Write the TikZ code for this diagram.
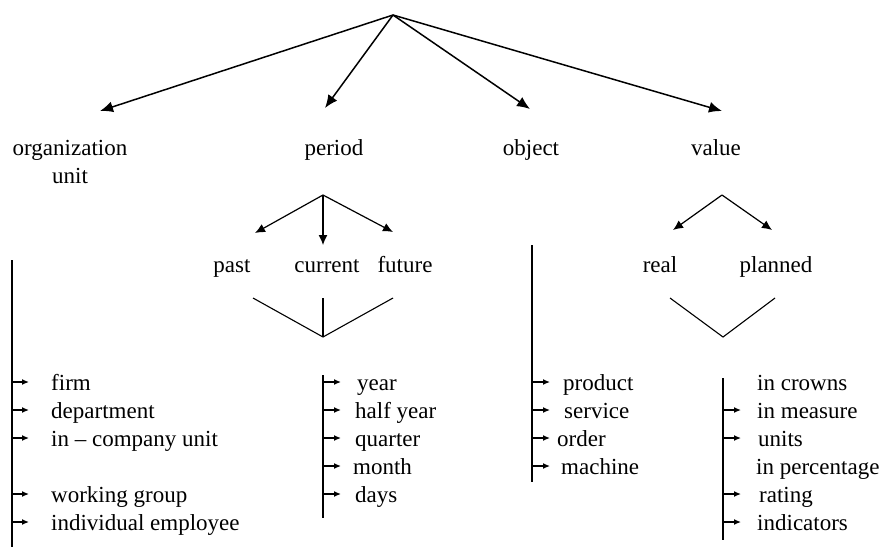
\documentclass[tikz,border=0pt]{standalone}
\usepackage{fontspec}
\setmainfont{Liberation Serif}
\usetikzlibrary{arrows.meta}
\begin{document}
\begin{tikzpicture}[x=1pt,y=-1pt,
  lbl/.style={inner sep=0pt, font=\fontsize{23}{28}\selectfont, text height=18pt, text depth=2pt},
  item/.style={lbl, anchor=base west},
  head/.style={lbl, anchor=base},
  bigarr/.style={line width=1.5pt, -{Latex[length=13pt,width=11pt]}},
  midarr/.style={line width=1.2pt, -{Latex[length=10pt,width=9pt]}},
  smallarr/.style={line width=1.3pt, -{Latex[length=7pt,width=6pt]}},
  plain/.style={line width=1.1pt}]
\useasboundingbox (0,0) rectangle (880,547);

% top level
\coordinate (apex) at (393,15);
\coordinate (orgtip) at (100,111);
\coordinate (pertip) at (325,108);
\coordinate (objtip) at (530,109);
\coordinate (valtip) at (722,111);
\node[head] (org) at (70,155) {organization};
\node[head] (unit) at (70,183) {unit};
\node[head] (period) at (334,155) {period};
\node[head] (object) at (531,155) {object};
\node[head] (value) at (716,155) {value};
\draw[bigarr] (apex) -- (orgtip);
\draw[bigarr] (apex) -- (pertip);
\draw[bigarr] (apex) -- (objtip);
\draw[bigarr] (apex) -- (valtip);

% period subtree
\coordinate (papex) at (323,195);
\coordinate (pasttip) at (255,233);
\coordinate (curtip) at (323,245);
\coordinate (futtip) at (393,232);
\node[head] (past) at (232,272) {past};
\node[head] (current) at (327,272) {current};
\node[head] (future) at (405,272) {future};
\draw[midarr] (papex) -- (pasttip);
\draw[midarr] (papex) -- (curtip);
\draw[midarr] (papex) -- (futtip);
\coordinate (pvl) at (253,298);
\coordinate (pvr) at (393,298);
\coordinate (pvt) at (323,298);
\coordinate (pvb) at (323,337);
\draw[plain] (pvl) -- (pvb) -- (pvr);
\draw[plain] (pvt) -- (pvb);

% value subtree
\coordinate (vapex) at (722,195);
\coordinate (realtip) at (673,230);
\coordinate (plantip) at (772,230);
\node[head] (real) at (660,272) {real};
\node[head] (planned) at (776,272) {planned};
\draw[midarr] (vapex) -- (realtip);
\draw[midarr] (vapex) -- (plantip);
\coordinate (vvl) at (670,298);
\coordinate (vvr) at (775,298);
\coordinate (vvb) at (723,337);
\draw[plain] (vvl) -- (vvb) -- (vvr);

% organization list
\coordinate (ltop) at (12,260);
\coordinate (lbot) at (12,547);
\coordinate (ltip) at (29,0);
\draw[plain] (ltop) -- (lbot);
\node[item] (firm) at (51,390) {firm};
\node[item] (dept) at (51,418) {department};
\node[item] (inco) at (51,446) {in -- company unit};
\node[item] (wg) at (51,502) {working group};
\node[item] (ie) at (51,530) {individual employee};
\foreach \n in {firm,dept,inco,wg,ie}
  \draw[smallarr] (ltop |- \n.west) -- (ltip |- \n.west);

% period list
\coordinate (ptop) at (323,375);
\coordinate (pbot) at (323,518);
\coordinate (ptip) at (341,0);
\draw[plain] (ptop) -- (pbot);
\node[item] (year) at (357,390) {year};
\node[item] (half) at (355,418) {half year};
\node[item] (quarter) at (355,446) {quarter};
\node[item] (month) at (353,474) {month};
\node[item] (days) at (355,502) {days};
\foreach \n in {year,half,quarter,month,days}
  \draw[smallarr] (ptop |- \n.west) -- (ptip |- \n.west);

% object list
\coordinate (otop) at (532,245);
\coordinate (obot) at (532,482);
\coordinate (otip) at (550,0);
\draw[plain] (otop) -- (obot);
\node[item] (product) at (563,390) {product};
\node[item] (service) at (564,418) {service};
\node[item] (order) at (557,446) {order};
\node[item] (machine) at (561,474) {machine};
\foreach \n in {product,service,order,machine}
  \draw[smallarr] (otop |- \n.west) -- (otip |- \n.west);

% value list
\coordinate (vtop) at (723,378);
\coordinate (vbot) at (723,540);
\coordinate (vtip) at (741,0);
\draw[plain] (vtop) -- (vbot);
\node[item] (crowns) at (757,390) {in crowns};
\node[item] (measure) at (757,418) {in measure};
\node[item] (units) at (758,446) {units};
\node[item] (perc) at (756,474) {in percentage};
\node[item] (rating) at (759,502) {rating};
\node[item] (indic) at (757,530) {indicators};
\foreach \n in {measure,units,rating,indic}
  \draw[smallarr] (vtop |- \n.west) -- (vtip |- \n.west);
\end{tikzpicture}
\end{document}
